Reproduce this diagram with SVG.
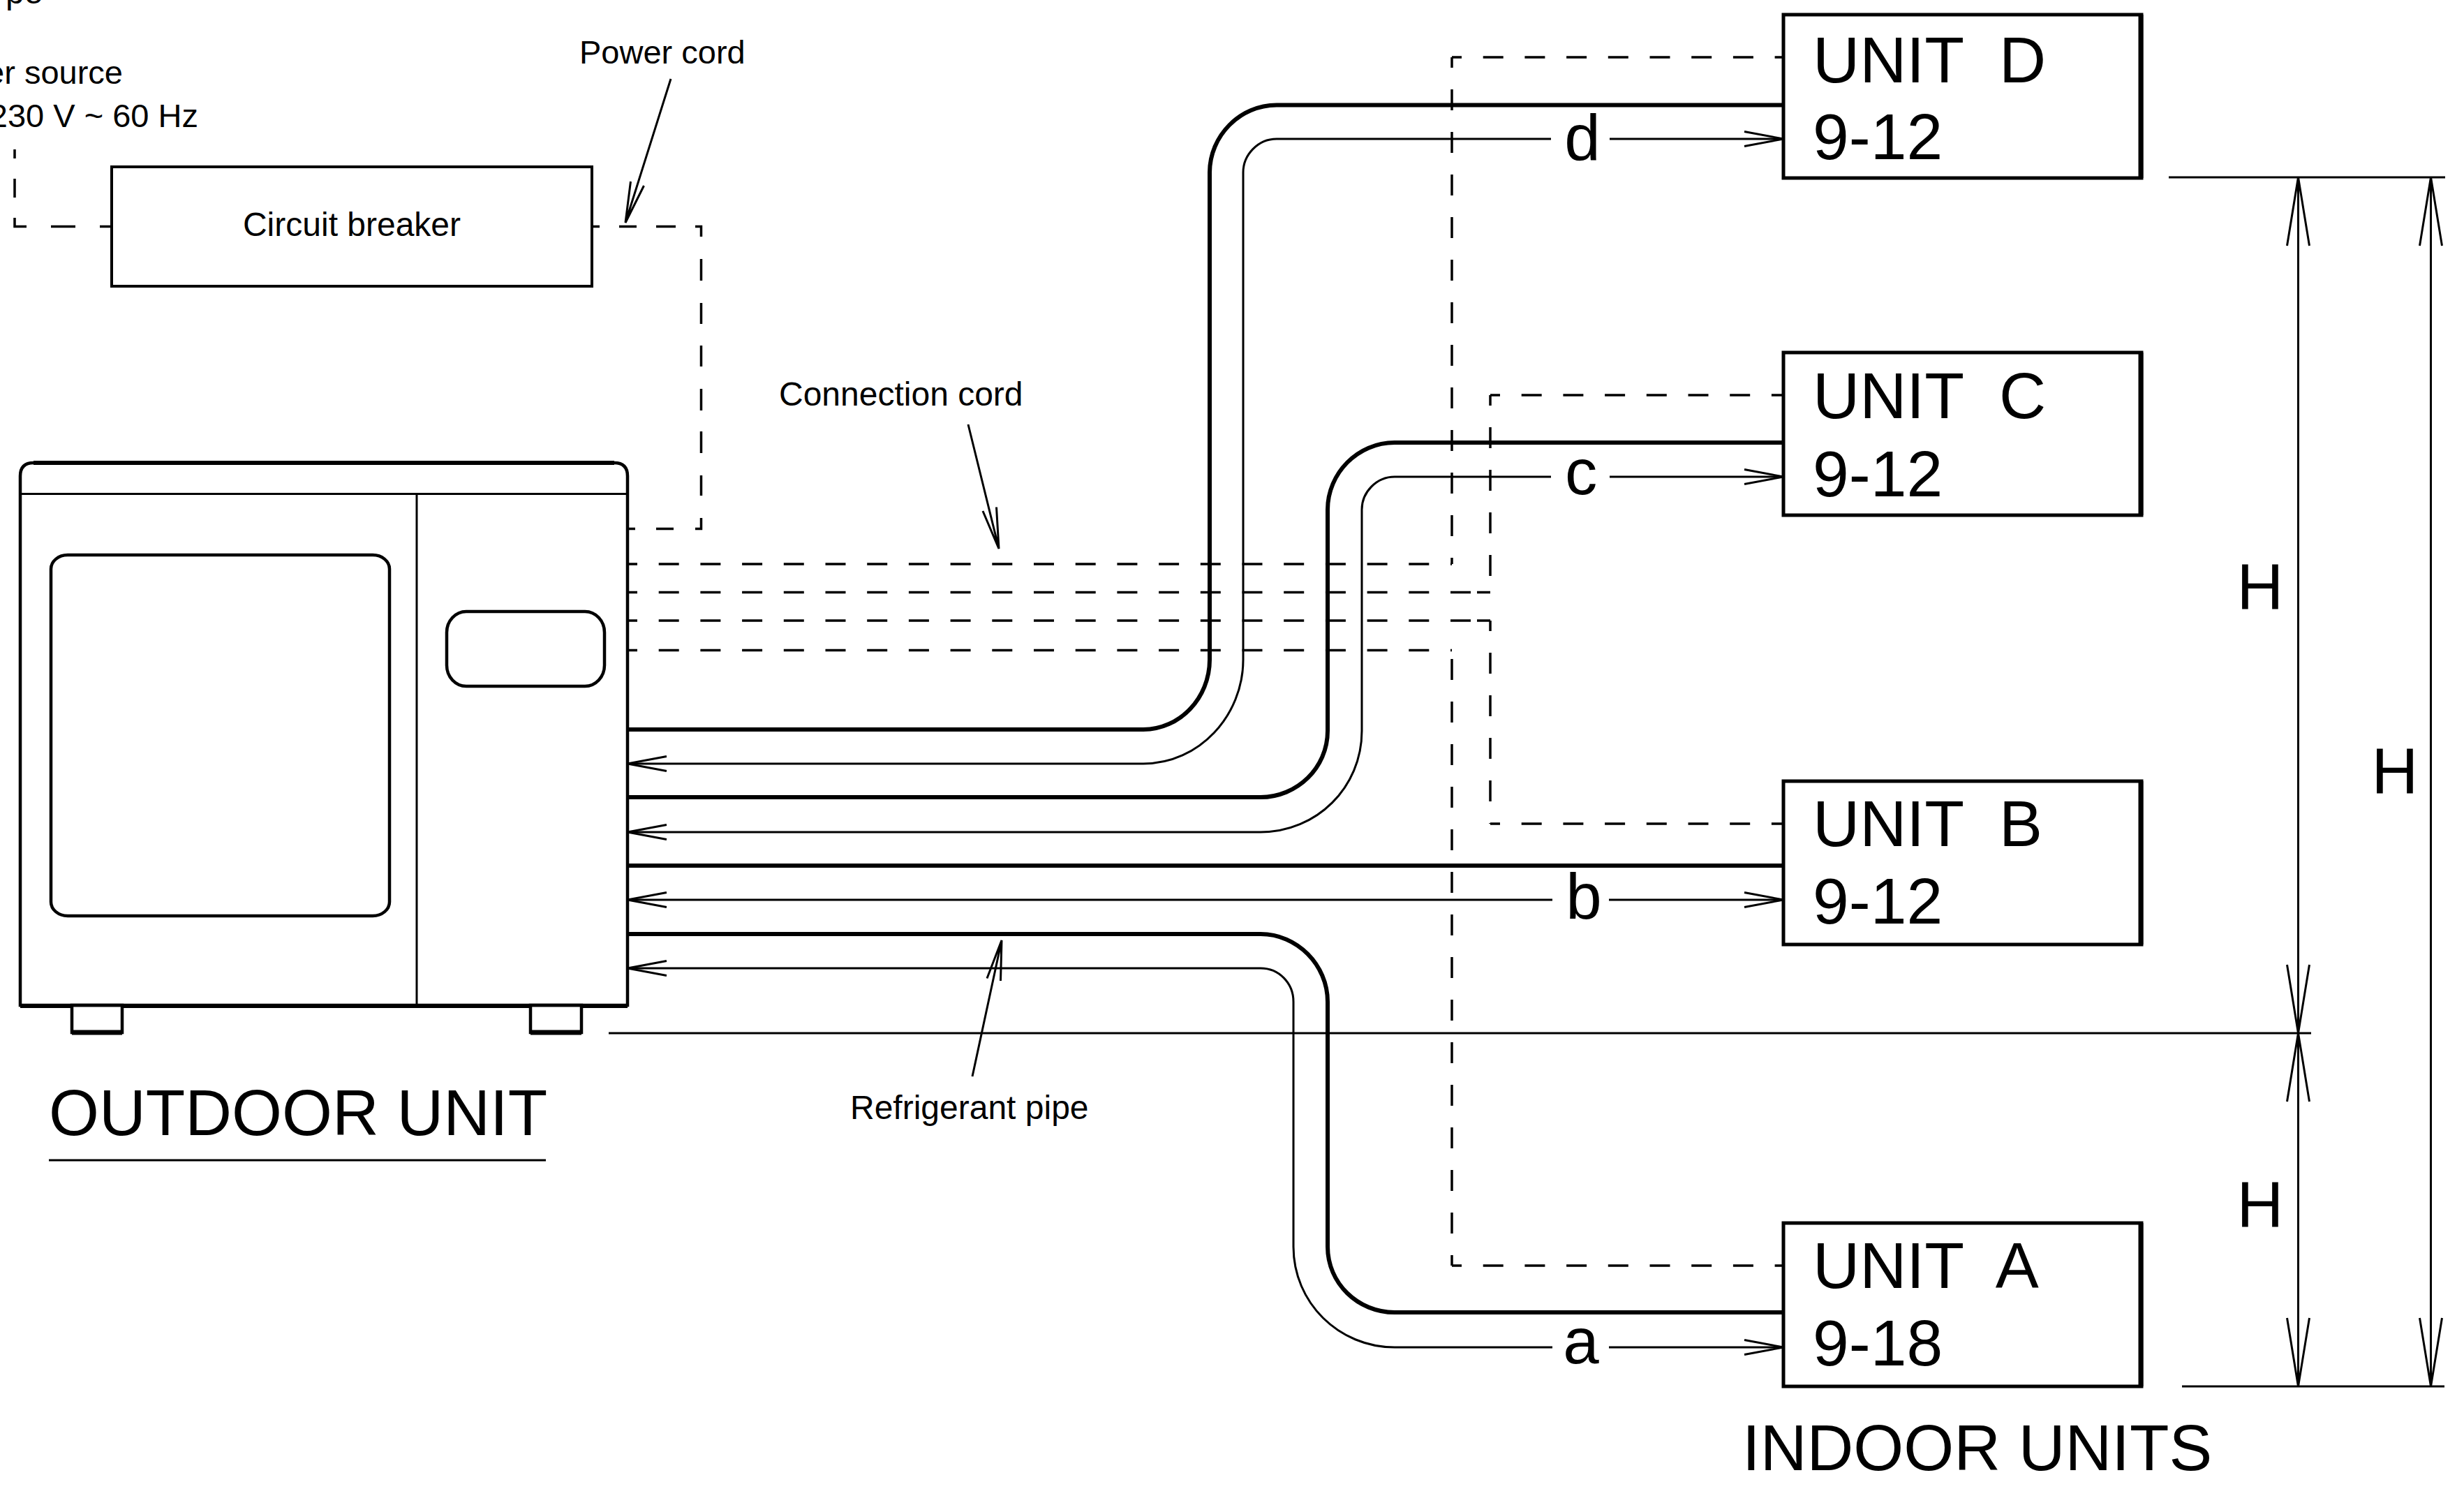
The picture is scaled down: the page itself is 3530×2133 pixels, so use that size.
<svg xmlns="http://www.w3.org/2000/svg" width="3530" height="2133" viewBox="0 0 3530 2133">
<style>
text{font-family:"Liberation Sans",Arial,sans-serif;fill:#000;white-space:pre}
.s{font-size:48px}.t{font-size:47px}.l{font-size:93px}.x{font-size:92.500px}
.box{fill:#fff;stroke:#000;stroke-width:5}
.edge{fill:none;stroke:#000;stroke-width:7}
.thin{fill:none;stroke:#000;stroke-width:3}
.med{fill:none;stroke:#000;stroke-width:4.500}
.thick{fill:none;stroke:#000;stroke-width:6}
.seg{fill:none;stroke:#000;stroke-width:3.500}
.dh{fill:none;stroke:#000;stroke-width:3.500;stroke-dasharray:29 30.700;stroke-dashoffset:15}
.dv{fill:none;stroke:#000;stroke-width:3.500;stroke-dasharray:30 31;stroke-dashoffset:15}
.m-arrow{fill:none;stroke:#000;stroke-width:3}
</style>
<defs>
<marker id="a" markerUnits="userSpaceOnUse" markerWidth="70" markerHeight="40" refX="58" refY="20" orient="auto"><path class="m-arrow" d="M2 9.500L58 20L2 30.500"/></marker>
<marker id="d" markerUnits="userSpaceOnUse" markerWidth="110" markerHeight="50" refX="100" refY="25" orient="auto-start-reverse"><path class="m-arrow" d="M2 9L100 25L2 41"/></marker>
</defs>
<g id="connectors">
<path class="seg" d="M21 214V227M21 256V283M21 312V324.500H38M73 324.500H108M143 324.500H160"/>
<path class="seg" d="M849 324.500H859M887 324.500H912M940 324.500H968M996 324.500H1004.500V339M1004.500 371V402M1004.500 434V464M1004.500 495V525M1004.500 557V588M1004.500 618V649M1004.500 681V710M1004.500 742V757.500H996M965 757.500H940M910 757.500H899"/>
<path class="seg" d="M2116 848.500H2135M2116 889H2135"/>
<path class="dh" d="M899 808H2080"/>
<path class="dv" d="M2080 82V808"/>
<path class="dh" d="M2080 82H2555"/>
<path class="dh" d="M899 848.500H2135"/>
<path class="dv" d="M2135 566V848.500"/>
<path class="dh" d="M2135 566H2555"/>
<path class="dh" d="M899 889H2135"/>
<path class="dv" d="M2135 889V1180"/>
<path class="dh" d="M2135 1180H2555"/>
<path class="dh" d="M899 931.500H2080"/>
<path class="dv" d="M2080 1813V931.500"/>
<path class="dh" d="M2080 1813H2555"/>
<path class="thick" d="M899 1045H1638C1690 1045 1733 1000 1733 945V247C1733 195 1776 150.500 1829 150.500H2555"/>
<path class="thick" d="M899 1142H1806C1858 1142 1902 1100 1902 1047V730C1902 678 1945 634 1998 634H2555"/>
<path class="thick" d="M899 1240H2555"/>
<path class="thick" d="M899 1338H1806C1858 1338 1902 1382 1902 1435V1786C1902 1838 1945 1880 1998 1880H2555"/>
<path class="thin" marker-end="url(#a)" d="M2222 199H1829C1802 199 1781 222 1781 247V945C1781 1025 1718 1094 1638 1094H899"/>
<path class="thin" marker-end="url(#a)" d="M2306 199H2555"/>
<path class="thin" marker-end="url(#a)" d="M2222 683H1998C1972 683 1951 705 1951 730V1047C1951 1128 1886 1192 1806 1192H899"/>
<path class="thin" marker-end="url(#a)" d="M2306 683H2555"/>
<path class="thin" marker-end="url(#a)" d="M2224 1289H899"/>
<path class="thin" marker-end="url(#a)" d="M2305 1289H2555"/>
<path class="thin" marker-end="url(#a)" d="M2224 1930H1998C1918 1930 1853 1866 1853 1786V1435C1853 1408 1832 1387 1806 1387H899"/>
<path class="thin" marker-end="url(#a)" d="M2305 1930H2555"/>
<path class="thin" d="M961 113L896 319M903.500 260L896 319L922.500 266"/>
<path class="thin" d="M1387 608L1431 786M1408 732L1431 786L1427.500 726.500"/>
<path class="thin" d="M1393 1542L1435 1347M1414 1401.500L1435 1347L1433.500 1405"/>
<path class="thin" d="M872 1480H3311M3126 1986H3502M3107 254H3503"/>
<path class="thin" marker-start="url(#d)" marker-end="url(#d)" d="M3292.500 254V1480"/>
<path class="thin" marker-start="url(#d)" marker-end="url(#d)" d="M3292.500 1480V1986"/>
<path class="thin" marker-start="url(#d)" marker-end="url(#d)" d="M3482.500 254V1986"/>
</g>
<g id="top-labels">
<text class="s" x="8" y="5">pe</text>
<text class="t" x="176" y="120" text-anchor="end">er source</text>
<text class="t" x="284" y="182" text-anchor="end">230 V ~ 60 Hz</text>
<text class="t" x="830" y="91">Power cord</text>
<text class="s" x="1116" y="581">Connection cord</text>
<text class="s" x="1218" y="1603">Refrigerant pipe</text>
</g>
<g id="circuit-breaker">
<rect x="160" y="239" width="688" height="171" fill="#fff" stroke="#000" stroke-width="4"/>
<text class="s" x="504" y="338" text-anchor="middle">Circuit breaker</text>
</g>
<g id="outdoor-unit">
<rect x="103" y="1440" width="72" height="39" class="med"/>
<rect x="760" y="1440" width="73" height="39" class="med"/>
<path class="edge" d="M103 1479H175M760 1479H833"/>
<path class="med" d="M29 1440V682Q29 663 48 663H880Q899 663 899 682V1440Z"/>
<path class="thick" d="M48 663H880M29 1441H103M175 1441H760M833 1441H899"/>
<path class="thin" d="M29 707.500H899M597 707.500V1441"/>
<rect class="med" x="73" y="795" width="485" height="517" rx="24" ry="20"/>
<rect class="med" x="640" y="876" width="226" height="107" rx="28" ry="30"/>
<text class="x" x="70" y="1626">OUTDOOR UNIT</text>
<path class="thin" d="M70 1662H782"/>
</g>
<g id="unit-d">
<rect class="box" x="2555" y="21" width="513" height="234"/>
<path class="edge" d="M3067 21V255"/>
<text class="l" x="2597" y="118">UNIT  D</text>
<text class="l" x="2597" y="228">9-12</text>
</g>
<g id="unit-c">
<rect class="box" x="2555" y="505" width="513" height="233"/>
<path class="edge" d="M3067 505V738"/>
<text class="l" x="2597" y="599">UNIT  C</text>
<text class="l" x="2597" y="711">9-12</text>
</g>
<g id="unit-b">
<rect class="box" x="2555" y="1119" width="513" height="234"/>
<path class="edge" d="M3067 1119V1353"/>
<text class="l" x="2597" y="1212">UNIT  B</text>
<text class="l" x="2597" y="1323">9-12</text>
</g>
<g id="unit-a">
<rect class="box" x="2555" y="1752" width="513" height="234"/>
<path class="edge" d="M3067 1752V1986"/>
<text class="l" x="2597" y="1845">UNIT  A</text>
<text class="l" x="2597" y="1956">9-18</text>
</g>
<g id="labels">
<text class="x" x="2267" y="229" text-anchor="middle">d</text>
<text class="x" x="2265" y="708" text-anchor="middle">c</text>
<text class="x" x="2269" y="1316" text-anchor="middle">b</text>
<text class="x" x="2265" y="1953" text-anchor="middle">a</text>
<text class="x" x="3238" y="873" text-anchor="middle">H</text>
<text class="x" x="3431" y="1137" text-anchor="middle">H</text>
<text class="x" x="3238" y="1758" text-anchor="middle">H</text>
<text class="x" x="2496" y="2106">INDOOR UNITS</text>
</g>
</svg>
